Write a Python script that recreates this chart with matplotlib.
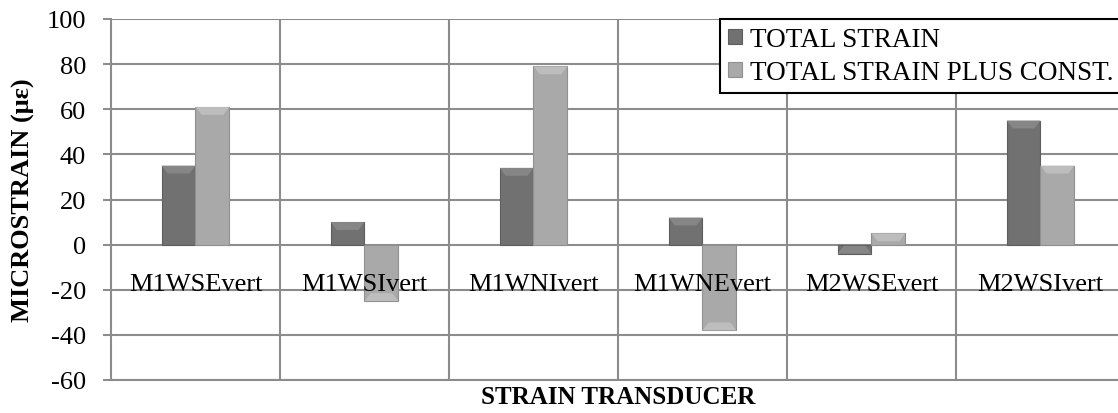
import numpy as np
import matplotlib
matplotlib.use('Agg')
import matplotlib.pyplot as plt
import matplotlib.transforms as mtransforms

categories = ['M1WSEvert', 'M1WSIvert', 'M1WNIvert', 'M1WNEvert', 'M2WSEvert', 'M2WSIvert']
total_strain = [35, 10, 34, 12, -4, 55]
total_plus_const = [61, -25, 79, -38, 5, 35]
series_names = ['TOTAL STRAIN', 'TOTAL STRAIN PLUS CONST.']
y_ticks = [-60, -40, -20, 0, 20, 40, 60, 80, 100]

plt.rcParams['font.family'] = ['Liberation Serif', 'DejaVu Serif']
plt.rcParams['axes.unicode_minus'] = False

fig = plt.figure(figsize=(11.18, 4.14), dpi=100)
ax = fig.add_axes([111 / 1118, 1 - 381 / 414, (1125 - 111) / 1118, 361 / 414])

x = np.arange(len(categories))
w = 0.2
grid_col = '#8c8c8c'

b1 = ax.bar(x - w / 2, total_strain, w, color='#717171', edgecolor='#5e5e5e',
            linewidth=0.8, label=series_names[0], zorder=3)
b2 = ax.bar(x + w / 2, total_plus_const, w, color='#a9a9a9', edgecolor='#909090',
            linewidth=0.8, label=series_names[1], zorder=3)

# bevel highlight on the end of each bar
for bars, hi in ((b1, '#868686'), (b2, '#bdbdbd')):
    for p in bars:
        x0, y0 = p.get_x(), p.get_y()
        bw, bh = p.get_width(), p.get_height()
        end = y0 + bh
        d = 3.5 * np.sign(bh)
        if abs(d) > abs(bh):
            d = bh
        ax.fill([x0, x0 + bw, x0 + bw * 0.82, x0 + bw * 0.18],
                [end, end, end - d, end - d], color=hi, zorder=4, lw=0)

ax.set_xlim(-0.5, len(categories) - 0.5)
ax.set_ylim(-60, 100)
ax.set_yticks(y_ticks)
ax.set_yticklabels([str(v) for v in y_ticks], fontsize=19)
ax.set_xticks(x)
ax.set_xticklabels([])
ax.set_xticks(x[:-1] + 0.5, minor=True)
ax.tick_params(axis='x', which='both', length=0)
ax.tick_params(axis='y', length=6, width=1.5, color=grid_col, pad=12)

ax.grid(True, axis='y', color=grid_col, lw=1.5, zorder=0)
ax.grid(True, axis='x', which='minor', color=grid_col, lw=1.5, zorder=0)
ax.grid(False, axis='x', which='major')

for s in ['top', 'right', 'bottom']:
    ax.spines[s].set_visible(False)
ax.spines['left'].set_color(grid_col)
ax.spines['left'].set_linewidth(1.5)
ax.axhline(ax.get_ylim()[0], color=grid_col, lw=1.5, zorder=1, clip_on=False)

# category labels sit just under the zero line, on top of the bars
off = mtransforms.offset_copy(ax.transData, fig=fig, x=0, y=-39, units='dots')
for xi, name in zip(x, categories):
    ax.text(xi, 0, name, transform=off, fontsize=19, ha='center', va='center', zorder=6)

ax.set_ylabel('MICROSTRAIN (\u03bc\u03b5)', fontsize=19, fontweight='bold', labelpad=8)
fig.text((111 + 1125) / 2 / 1118, 1 - 398 / 414, 'STRAIN TRANSDUCER', fontsize=18,
         fontweight='bold', ha='center', va='center')

leg = ax.legend(loc='upper left', bbox_to_anchor=(720 / 1118, 1 - 20 / 414),
                bbox_transform=fig.transFigure, prop={'size': 19.5}, frameon=True,
                fancybox=False, edgecolor='black', framealpha=1, borderaxespad=0,
                handlelength=0.5, handleheight=0.5, handletextpad=0.3,
                labelspacing=0.3, borderpad=0.3)
leg.get_frame().set_linewidth(1.5)
leg.set_zorder(10)

fig.savefig('out.png', dpi=100)
